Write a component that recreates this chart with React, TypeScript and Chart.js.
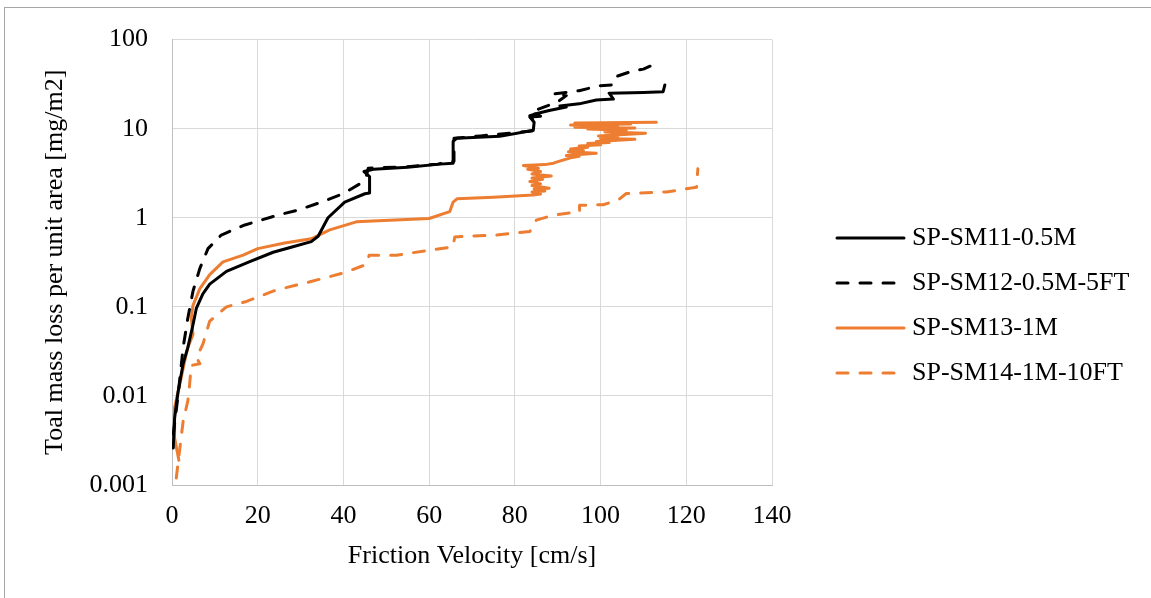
import { useEffect, useRef } from 'react';
import { Chart, registerables } from 'chart.js';

Chart.register(...registerables);

// ---- data ----
const seriesNames = ['SP-SM11-0.5M', 'SP-SM12-0.5M-5FT', 'SP-SM13-1M', 'SP-SM14-1M-10FT'];

const sm11Velocity = [0.3, 0.6, 1.4, 2.6, 3.7, 4.9, 5.7, 7.2, 8.8, 12.7, 18, 23.6, 28, 32.5, 34.1, 36.4, 40.3, 45, 46.1, 46.1, 44.8, 47, 55, 62.5, 65.6, 65.6, 66.4, 76.5, 84.3, 84.5, 83.5, 86, 84.5, 88, 92, 90.5, 95, 99, 103, 102, 110, 114.6, 115];
const sm11Loss = [0.0026, 0.0056, 0.011, 0.023, 0.035, 0.063, 0.097, 0.14, 0.18, 0.25, 0.32, 0.41, 0.47, 0.54, 0.62, 1.0, 1.5, 1.86, 1.9, 2.9, 3.3, 3.5, 3.7, 4.0, 4.1, 7.2, 7.8, 8.2, 9.6, 11.8, 13.5, 13.8, 14.5, 16, 17.5, 18, 19, 21, 21.5, 25, 25.5, 26, 31];

const sm12Velocity = [0.3, 1.4, 2.6, 3.7, 4.9, 6.5, 8.4, 11.5, 17, 24.7, 29.4, 34.9, 39.9, 43.8, 45.4, 45.8, 55, 62, 65.8, 65.8, 72, 84, 84.5, 83.5, 86.5, 85.5, 90, 92, 89, 95, 99.8, 103, 104, 107.6, 110, 112.6, 113];
const sm12Loss = [0.0037, 0.01, 0.035, 0.075, 0.15, 0.27, 0.45, 0.64, 0.83, 1.07, 1.22, 1.5, 1.86, 2.4, 3.0, 3.6, 3.75, 4.0, 4.3, 7.8, 8.3, 9.4, 12, 14, 15.5, 16.6, 20, 23.5, 24.5, 26.7, 30.4, 31, 39, 44.7, 46.6, 53, 47];

const sm13Velocity = [1.6, 0.6, 0.6, 1.8, 3.0, 3.7, 4.9, 4.5, 4.9, 6.5, 8.8, 11.9, 16.6, 20, 26.3, 32.5, 36.8, 43, 46.8, 60, 64.8, 65.6, 66.5, 75, 84.2,
  86, 84, 87, 84.5, 88, 84, 86, 83.5, 86.5, 84, 88.5, 84, 86, 83, 85.5, 82, 87, 89, 91, 93, 95, 92, 99, 92.5, 96, 93, 97, 95, 100, 97, 102, 99, 108, 100, 104, 99.5, 110.5, 101, 106, 97, 108, 94, 104, 93, 107, 94, 113];
const sm13Loss = [0.0019, 0.0034, 0.0074, 0.0134, 0.025, 0.035, 0.049, 0.075, 0.104, 0.16, 0.23, 0.32, 0.38, 0.45, 0.52, 0.58, 0.73, 0.9, 0.92, 0.98, 1.17, 1.5, 1.63, 1.7, 1.8,
  1.85, 1.95, 2.0, 2.1, 2.15, 2.3, 2.4, 2.55, 2.7, 2.8, 2.95, 3.1, 3.3, 3.5, 3.6, 3.85, 3.95, 4.1, 4.4, 4.7, 4.9, 5.0, 5.3, 5.5, 5.7, 5.9, 6.2, 6.4, 6.6, 6.8, 7.0, 7.2, 7.6, 7.8, 8.1, 8.3, 8.9, 9.2, 9.6, 9.9, 10.2, 10.4, 10.7, 11.0, 11.3, 11.6, 11.8];

const sm14Velocity = [1.0, 1.8, 2.6, 3.7, 4.1, 4.5, 6.5, 5.7, 7.2, 8.8, 12.7, 17.4, 24.4, 32, 40, 45.4, 46, 52.4, 62.5, 65.5, 66, 75.7, 83.5, 85, 88.9, 95.1, 95.1, 100.6, 104.1, 106, 115.4, 122.4, 122.7];
const sm14Loss = [0.0012, 0.0025, 0.0052, 0.0088, 0.0134, 0.022, 0.023, 0.027, 0.038, 0.069, 0.1, 0.115, 0.155, 0.19, 0.24, 0.3, 0.38, 0.38, 0.45, 0.47, 0.61, 0.64, 0.7, 0.94, 1.07, 1.17, 1.38, 1.4, 1.58, 1.87, 1.95, 2.2, 3.55];

const yTickValues = [0.001, 0.01, 0.1, 1, 10, 100];
const yTickLabels = ['0.001', '0.01', '0.1', '1', '10', '100'];
const xMin = 0;
const xMax = 140;
const xStep = 20;

const xTitle = 'Friction Velocity [cm/s]';
const yTitle = 'Toal mass loss per unit area [mg/m2]';

// ---- styles ----
const BLACK = '#000000';
const ORANGE = '#ED7D31';
const FONT_FAMILY = '"Liberation Serif", "Times New Roman", serif';
const FONT_SIZE = 26;
const DASH = [11, 12];

function toPoints(xs: number[], ys: number[]) {
  return xs.map((x, i) => ({ x, y: ys[i] }));
}

const sideLegend = {
  id: 'sideLegend',
  afterDraw(chart: any) {
    const ctx = chart.ctx as CanvasRenderingContext2D;
    const top = 238;
    const step = 45;
    chart.data.datasets.forEach((ds: any, i: number) => {
      const y = top + i * step;
      ctx.save();
      ctx.strokeStyle = ds.borderColor;
      ctx.lineWidth = 3;
      ctx.lineCap = 'round';
      ctx.setLineDash(ds.borderDash || []);
      ctx.beginPath();
      ctx.moveTo(837, y);
      ctx.lineTo(904, y);
      ctx.stroke();
      ctx.setLineDash([]);
      ctx.fillStyle = '#000';
      ctx.font = `${FONT_SIZE}px ${FONT_FAMILY}`;
      ctx.textBaseline = 'middle';
      ctx.textAlign = 'left';
      ctx.fillText(ds.label, 912, y);
      ctx.restore();
    });
  },
};

export default function App() {
  const ref = useRef<HTMLCanvasElement>(null);

  useEffect(() => {
    const font = { family: FONT_FAMILY, size: FONT_SIZE };
    const mk = (label: string, xs: number[], ys: number[], color: string, dashed: boolean) => ({
      label,
      data: toPoints(xs, ys),
      showLine: true,
      borderColor: color,
      backgroundColor: color,
      borderWidth: 3,
      borderDash: dashed ? DASH : [],
      borderCapStyle: 'round',
      borderJoinStyle: 'round',
      pointRadius: 0,
      pointHoverRadius: 0,
      tension: 0,
      fill: false,
    });
    const chart = new Chart(ref.current as HTMLCanvasElement, {
      type: 'scatter',
      data: {
        datasets: [
          mk(seriesNames[0], sm11Velocity, sm11Loss, BLACK, false),
          mk(seriesNames[1], sm12Velocity, sm12Loss, BLACK, true),
          mk(seriesNames[2], sm13Velocity, sm13Loss, ORANGE, false),
          mk(seriesNames[3], sm14Velocity, sm14Loss, ORANGE, true),
        ],
      } as any,
      options: {
        animation: false,
        responsive: false,
        layout: { padding: { top: 37, right: 379, left: 0, bottom: 0 } },
        plugins: {
          legend: { display: false },
          tooltip: { enabled: false },
        },
        scales: {
          x: {
            type: 'linear',
            min: xMin,
            max: xMax,
            ticks: { stepSize: xStep, color: '#000', font, padding: 16, maxRotation: 0 },
            grid: { color: '#d9d9d9', drawTicks: false },
            border: { color: '#bfbfbf' },
            title: { display: true, text: xTitle, color: '#000', font, padding: { top: 0, bottom: 26 } },
            afterFit: (scale: any) => {
              scale.height = 113;
            },
          },
          y: {
            type: 'logarithmic',
            min: yTickValues[0],
            max: yTickValues[yTickValues.length - 1],
            afterBuildTicks: (scale: any) => {
              scale.ticks = yTickValues.map((value) => ({ value }));
            },
            ticks: {
              color: '#000',
              font,
              padding: 24,
              autoSkip: false,
              callback: (_v: any, index: number) => yTickLabels[index],
            },
            grid: { color: '#d9d9d9', drawTicks: false },
            border: { color: '#bfbfbf' },
            title: { display: true, text: yTitle, color: '#000', font, padding: { top: 40, bottom: 0 } },
            afterFit: (scale: any) => {
              scale.width = 172;
            },
          },
        },
      } as any,
      plugins: [sideLegend],
    });
    return () => chart.destroy();
  }, []);

  return (
    <div style={{ position: 'absolute', left: 0, top: 0, width: 1151, height: 598, background: '#fff', overflow: 'hidden' }}>
      <div
        style={{
          position: 'absolute',
          left: 4,
          top: 7,
          right: 0,
          bottom: 0,
          borderTop: '1px solid #a6a6a6',
          borderLeft: '1px solid #a6a6a6',
        }}
      />
      <canvas ref={ref} width={1151} height={598} style={{ position: 'absolute', left: 0, top: 0, display: 'block' }} />
    </div>
  );
}
